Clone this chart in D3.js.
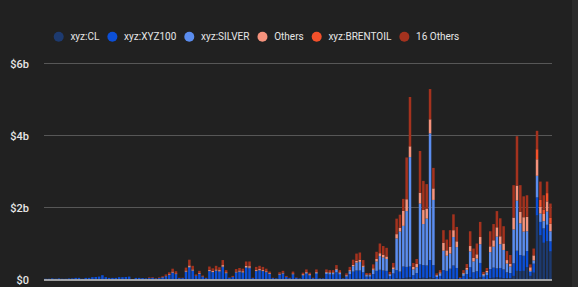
<!DOCTYPE html>
<html>
<head>
<meta charset="utf-8">
<script src="https://cdn.jsdelivr.net/npm/d3@7"></script>
<style>
  html, body { margin: 0; padding: 0; background: #212121; }
  svg { display: block; }
</style>
</head>
<body>
<div id="chart"></div>
<script>
var seriesNames = ["xyz:CL", "xyz:XYZ100", "xyz:SILVER", "Others", "xyz:BRENTOIL", "16 Others"];
var seriesColors = ["#1d3a6f", "#0c4fd7", "#5b8def", "#f6937d", "#f4512b", "#a4321e"];
var yTicks = [0, 2, 4, 6];
var yTickLabels = ["$0", "$2b", "$4b", "$6b"];

// values in $ billions, one per bar
var cl = [
  0,0,0,0,0,0,0,0,0,0,
  0,0,0,0,0,0,0,0,0,0,
  0,0,0,0,0,0,0,0,0,0,
  0,0,0,0,0,0,0,0,0,0,
  0,0,0,0,0,0,0,0,0,0,
  0,0,0,0,0,0,0,0,0,0,
  0,0,0,0,0,0,0,0,0,0,
  0,0,0,0,0,0,0,0,0,0,
  0,0,0,0,0,0,0,0,0,0,
  0,0,0,0.02,0.02,0,0,0,0,0.02,
  0.02,0.02,0.02,0,0,0.03,0.02,0.04,0.05,0.06,
  0,0.02,0.04,0.05,0.04,0.06,0.04,0,0,0.02,
  0.02,0.02,0.02,0.02,0,0,0,0.06,0.02,0.03,
  0.06,0,0,0.04,0.05,0.06,0.05,0.04,0.04,0.04,
  0.1,0.24,0.23,0.24,0.34,0.1,0.19,1.78,1.23,1.02,
  1.06,0.78
];
var xyz100 = [
  0.02,0.02,0.03,0.02,0.03,0.02,0.02,0.03,0.03,0.045,
  0.045,0.02,0.045,0.045,0.065,0.07,0.08,0.12,0.065,0.045,
  0.045,0.045,0.065,0.065,0.07,0.08,0.01,0.045,0.045,0.04,
  0.03,0.04,0.05,0.03,0.04,0.06,0.09,0.13,0.19,0.15,
  0.04,0.04,0.21,0.33,0.24,0.1,0.16,0.08,0.04,0.23,
  0.2,0.24,0.22,0.34,0.17,0.05,0.07,0.19,0.21,0.19,
  0.32,0.31,0.04,0.23,0.25,0.23,0.2,0.15,0.04,0.03,
  0.13,0.16,0.07,0.04,0.14,0.05,0.03,0.11,0.16,0.11,
  0.04,0.16,0.03,0.03,0.15,0.14,0.14,0.2,0.14,0.03,
  0.08,0.15,0.22,0.23,0.23,0.2,0.08,0.08,0.15,0.22,
  0.25,0.23,0.22,0.09,0.17,0.23,0.2,0.32,0.3,0.3,
  0.12,0.16,0.38,0.35,0.35,0.48,0.36,0.07,0.1,0.24,
  0.22,0.28,0.37,0.3,0.05,0.1,0.15,0.28,0.18,0.2,
  0.4,0.08,0.12,0.25,0.28,0.25,0.27,0.24,0.16,0.14,
  0.35,0.56,0.45,0.42,0.45,0.11,0.25,0.5,0.37,0.4,
  0.46,0.28
];
var silver = [
  0,0,0,0,0,0,0,0,0,0,
  0,0,0,0,0,0,0,0,0,0,
  0,0,0,0,0,0,0,0,0,0,
  0,0,0,0,0,0,0,0,0,0,
  0,0,0.01,0.02,0.01,0,0,0,0,0.01,
  0.01,0.01,0.01,0.02,0.01,0,0,0.01,0.01,0.01,
  0.02,0.02,0,0.01,0.01,0.01,0.01,0.01,0,0,
  0.01,0.01,0,0,0.01,0,0,0.02,0.03,0.02,
  0,0.03,0,0,0.04,0.04,0.04,0.07,0.04,0,
  0.03,0.08,0.15,0.22,0.24,0.15,0.04,0.04,0.12,0.26,
  0.38,0.36,0.33,0.05,0.12,0.88,1.11,1.13,1.55,3.04,
  0.16,0.16,1.69,1.14,1.3,3.52,1.81,0.04,0.07,0.54,
  0.42,0.42,0.79,0.58,0,0.06,0.12,0.44,0.3,0.35,
  0.52,0.05,0.08,0.47,0.58,0.88,0.66,0.54,0.24,0.18,
  0.94,1.39,0.88,0.67,0.55,0.03,0.09,0.6,0.23,0.2,
  0.37,0.28
];
var others = [
  0,0,0,0,0,0,0,0,0,0,
  0,0,0,0,0,0,0,0,0,0,
  0,0,0,0,0,0,0,0,0,0,
  0,0,0,0,0,0.01,0.01,0.02,0.03,0.02,
  0,0,0.03,0.04,0.03,0.01,0.02,0.01,0,0.03,
  0.03,0.03,0.03,0.04,0.02,0,0.01,0.02,0.03,0.03,
  0.04,0.04,0,0.03,0.03,0.03,0.02,0.02,0,0,
  0.02,0.02,0.01,0,0.02,0,0,0.02,0.02,0.02,
  0,0.02,0,0,0.02,0.02,0.02,0.03,0.02,0,
  0.02,0.03,0.04,0.05,0.06,0.04,0.02,0.02,0.04,0.07,
  0.08,0.08,0.07,0.02,0.05,0.12,0.11,0.42,0.33,0.3,
  0.07,0.09,0.3,0.39,0.28,0.39,0.32,0.02,0.03,0.22,
  0.15,0.19,0.19,0.16,0,0.03,0.05,0.15,0.1,0.12,
  0.2,0.03,0.04,0.16,0.18,0.26,0.22,0.18,0.1,0.08,
  0.33,0.42,0.32,0.4,0.4,0.1,0.14,0.46,0.19,0.2,
  0.28,0.21
];
var brentoil = [
  0,0,0,0,0,0,0,0,0,0,
  0,0,0,0,0,0,0,0,0,0,
  0,0,0,0,0,0,0,0,0,0,
  0,0,0,0,0,0,0,0,0,0,
  0,0,0,0,0,0,0,0,0,0,
  0,0,0,0,0,0,0,0,0,0,
  0,0,0,0,0,0,0,0,0,0,
  0,0,0,0,0,0,0,0,0,0,
  0,0,0,0,0,0,0,0,0,0,
  0,0,0,0,0,0,0,0,0,0,
  0,0,0,0,0,0,0,0,0,0,
  0,0,0,0,0,0,0,0,0,0,
  0,0,0,0,0,0,0,0,0,0,
  0,0,0,0,0,0,0,0,0,0,
  0,0,0,0,0,0,0,0.28,0.19,0.12,
  0.23,0.16
];
var others16 = [
  0,0,0,0,0,0,0,0,0,0,
  0,0,0,0,0,0,0,0,0,0,
  0,0,0,0,0,0,0,0,0,0,
  0,0.02,0.02,0.01,0.02,0.02,0.04,0.05,0.08,0.06,
  0.01,0.01,0.08,0.16,0.1,0.03,0.06,0.02,0.01,0.09,
  0.07,0.1,0.08,0.14,0.06,0.01,0.02,0.07,0.07,0.07,
  0.12,0.13,0.01,0.08,0.09,0.08,0.07,0.04,0.01,0,
  0.04,0.05,0.02,0.01,0.05,0.01,0,0.04,0.07,0.04,
  0.01,0.07,0,0,0.07,0.06,0.06,0.1,0.06,0,
  0.04,0.09,0.14,0.2,0.2,0.15,0.04,0.04,0.11,0.2,
  0.27,0.24,0.24,0.05,0.12,0.43,0.36,0.33,1.16,1.37,
  0.11,0.14,1.16,0.81,0.68,0.84,0.57,0.04,0.06,0.35,
  0.3,0.46,0.44,0.4,0.02,0.07,0.11,0.41,0.26,0.3,
  0.42,0.05,0.08,0.42,0.45,0.45,0.5,0.48,0.25,0.24,
  0.9,1.37,0.74,0.58,0.6,0.08,0.19,0.51,0.51,0.4,
  0.32,0.4
];

var w = 578;
var h = 287;

var svg = d3.select("#chart")
    .append("svg")
    .attr("width", w)
    .attr("height", h);

svg.append("rect")
    .attr("width", w)
    .attr("height", h)
    .attr("fill", "#212121");

// lighter strip on the right edge
svg.append("rect")
    .attr("x", 572)
    .attr("width", w - 572)
    .attr("height", h)
    .attr("fill", "#2b2b2b");

var allSeries = [cl, xyz100, silver, others, brentoil, others16];
var bars = d3.range(cl.length);
var table = bars.map(function (i) {
    var row = { i: i };
    seriesNames.forEach(function (name, k) { row[name] = allSeries[k][i]; });
    return row;
});

var xScale = d3.scaleBand()
    .domain(bars)
    .range([44, 552])
    .paddingInner(0.25)
    .paddingOuter(0.1);

var yScale = d3.scaleLinear()
    .domain([0, 6])
    .range([279.5, 63.5]);

// grid lines
svg.append("g")
    .selectAll("line")
    .data(yTicks.filter(function (d) { return d > 0; }))
    .enter()
    .append("line")
    .attr("x1", 44)
    .attr("x2", 552)
    .attr("y1", function (d) { return yScale(d); })
    .attr("y2", function (d) { return yScale(d); })
    .attr("stroke", "#575757")
    .attr("stroke-width", 1);

var yAxis = svg.append("g")
    .attr("transform", "translate(29,0)")
    .call(d3.axisLeft(yScale)
        .tickValues(yTicks)
        .tickSize(0)
        .tickPadding(0)
        .tickFormat(function (d, i) { return yTickLabels[i]; }));
yAxis.select(".domain").remove();
yAxis.selectAll("text")
    .style("font-family", "Roboto, sans-serif")
    .style("font-size", "11px")
    .style("font-weight", "500")
    .attr("fill", "#e6e6e6");

var stack = d3.stack().keys(seriesNames);
var layers = stack(table);

svg.append("g")
    .selectAll("g")
    .data(layers)
    .enter()
    .append("g")
    .attr("fill", function (d, k) { return seriesColors[k]; })
    .selectAll("rect")
    .data(function (d) { return d.filter(function (s) { return s[1] > s[0]; }); })
    .enter()
    .append("rect")
    .attr("x", function (d) { return xScale(d.data.i); })
    .attr("y", function (d) { return yScale(d[1]); })
    .attr("width", xScale.bandwidth())
    .attr("height", function (d) { return yScale(d[0]) - yScale(d[1]); });

// baseline
svg.append("line")
    .attr("x1", 44)
    .attr("x2", 552)
    .attr("y1", yScale(0) + 0.5)
    .attr("y2", yScale(0) + 0.5)
    .attr("stroke", "#c9c9c9")
    .attr("stroke-width", 1.5);

// legend
var legend = svg.append("g");
var lx = 58.7;
seriesNames.forEach(function (name, k) {
    legend.append("circle")
        .attr("cx", lx)
        .attr("cy", 36.7)
        .attr("r", 5)
        .attr("fill", seriesColors[k]);
    var t = legend.append("text")
        .attr("x", lx + 11.7)
        .attr("y", 36.7)
        .attr("dy", "0.35em")
        .style("font-family", "Roboto, sans-serif")
        .style("font-size", "10px")
        .attr("fill", "#e6e6e6")
        .text(name);
    lx = lx + 11.7 + t.node().getComputedTextLength() + 13;
});
</script>
</body>
</html>
